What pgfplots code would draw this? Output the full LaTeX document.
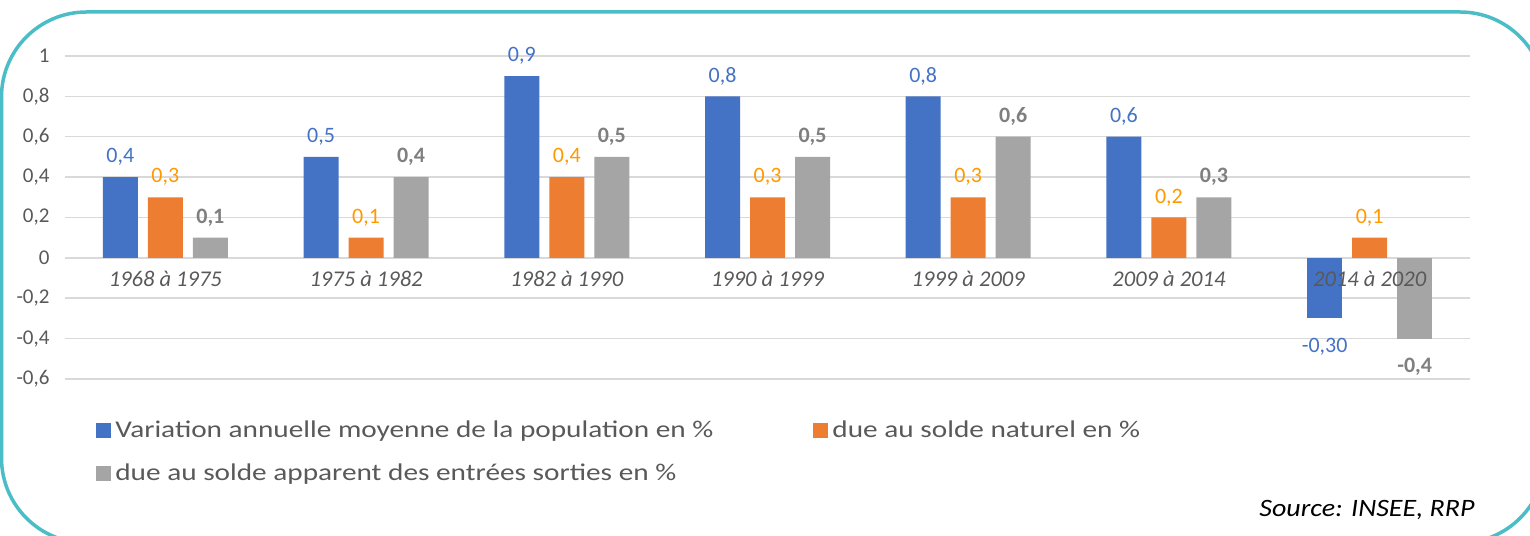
\documentclass[border=0pt]{standalone}
\usepackage{graphicx}
\usepackage{pgfplots}
\pgfplotsset{compat=1.18}
\usepackage{fontspec}
\setmainfont{Carlito}
\definecolor{cblue}{HTML}{4472C4}
\definecolor{corange}{HTML}{ED7D31}
\definecolor{cgray}{HTML}{A5A5A5}
\definecolor{lblorange}{HTML}{FF9900}
\definecolor{lblgray}{HTML}{7F7F7F}
\definecolor{txt}{HTML}{595959}
\definecolor{gridc}{HTML}{D9D9D9}
\definecolor{framec}{HTML}{4BBDC6}
\newcommand{\legtxt}[1]{\hspace{2pt}\scalebox{1.22}[1]{#1}}
\pgfplotsset{
  base/.style={at={(65pt,156pt)}, anchor=south west, scale only axis,
    width=1405pt, height=323pt,
    ymin=-0.6, ymax=1, xmin=-0.5, xmax=6.5,
    axis x line=middle, axis y line=left, axis line style={draw=none},
    hide obscured x ticks=false, hide obscured y ticks=false,
    major tick length=0pt, clip=false},
}
\begin{document}
\begin{tikzpicture}[x=1pt,y=1pt]
\useasboundingbox (0,0) rectangle (1530,535);
\begin{scope}
\clip (0,0) rectangle (1530,535);
\draw[framec, line width=3.5pt, rounded corners=85pt] (1.5,-8) rectangle (1545,523);
\end{scope}
\begin{axis}[base,
  ytick={-0.6,-0.4,-0.2,0,0.2,0.4,0.6,0.8,1},
  ymajorgrids, grid style={gridc, line width=1.5pt},
  xtick={0,1,2,3,4,5,6}, xticklabels={},
  yticklabel style={font=\fontsize{21}{24}\selectfont, text=txt, xshift=-12pt},
  /pgf/number format/use comma, /pgf/number format/fixed,
  /pgf/number format/precision=1, /pgf/number format/assume math mode=true,
  ybar, bar width=35pt,
  nodes near coords, point meta=explicit symbolic,
  nodes near coords style={font=\fontsize{22}{26}\selectfont, anchor=south, yshift=8pt},
  legend columns=2, legend cell align=left,
  legend style={at={(axis description cs:0.02,-0.117)}, anchor=north west,
    draw=none, fill=none, font=\fontsize{24}{28}\selectfont, text=txt,
    row sep=21pt, /tikz/every even column/.append style={column sep=98pt}},
]
\addplot[fill=cblue, draw=none, bar shift=-45pt, every node near coord/.append style={text=cblue},
  legend image code/.code={\fill[cblue] (0pt,-7.5pt) rectangle (15pt,7.5pt);}]
  coordinates {(0,0.4)[0,4] (1,0.5)[0,5] (2,0.9)[0,9] (3,0.8)[0,8] (4,0.8)[0,8] (5,0.6)[0,6]};
\addplot[fill=corange, draw=none, bar shift=0pt, every node near coord/.append style={text=lblorange},
  legend image code/.code={\fill[corange] (0pt,-7.5pt) rectangle (15pt,7.5pt);}]
  coordinates {(0,0.3)[0,3] (1,0.1)[0,1] (2,0.4)[0,4] (3,0.3)[0,3] (4,0.3)[0,3] (5,0.2)[0,2] (6,0.1)[0,1]};
\addplot[fill=cgray, draw=none, bar shift=45pt, every node near coord/.append style={text=lblgray, font=\bfseries\fontsize{22}{26}\selectfont},
  legend image code/.code={\fill[cgray] (0pt,-7.5pt) rectangle (15pt,7.5pt);}]
  coordinates {(0,0.1)[0,1] (1,0.4)[0,4] (2,0.5)[0,5] (3,0.5)[0,5] (4,0.6)[0,6] (5,0.3)[0,3]};
\legend{\legtxt{Variation annuelle moyenne de la population en \%}, \legtxt{due au solde naturel en \%}, \legtxt{due au solde apparent des entrées sorties en \%}}
% negative values (2014 a 2020)
\addplot[fill=cblue, draw=none, bar shift=-45pt, forget plot,
  every node near coord/.append style={text=cblue, anchor=north, yshift=-24pt}]
  coordinates {(6,-0.3)[-0,30]};
\addplot[fill=cgray, draw=none, bar shift=45pt, forget plot,
  every node near coord/.append style={text=lblgray, font=\bfseries\fontsize{22}{26}\selectfont, anchor=north, yshift=-24pt}]
  coordinates {(6,-0.4)[-0,4]};
\end{axis}
% category labels drawn on top of the bars
\begin{axis}[base, ytick=\empty,
  xtick={0,1,2,3,4,5,6},
  xticklabels={1968 à 1975,1975 à 1982,1982 à 1990,1990 à 1999,1999 à 2009,2009 à 2014,2014 à 2020},
  xticklabel style={font=\itshape\fontsize{22.5}{26}\selectfont, text=txt, yshift=-10pt}]
\end{axis}
\node[anchor=base east, font=\itshape\fontsize{25}{30}\selectfont] at (1478,18) {\scalebox{1.12}[1]{Source: INSEE, RRP}};
\end{tikzpicture}
\end{document}
